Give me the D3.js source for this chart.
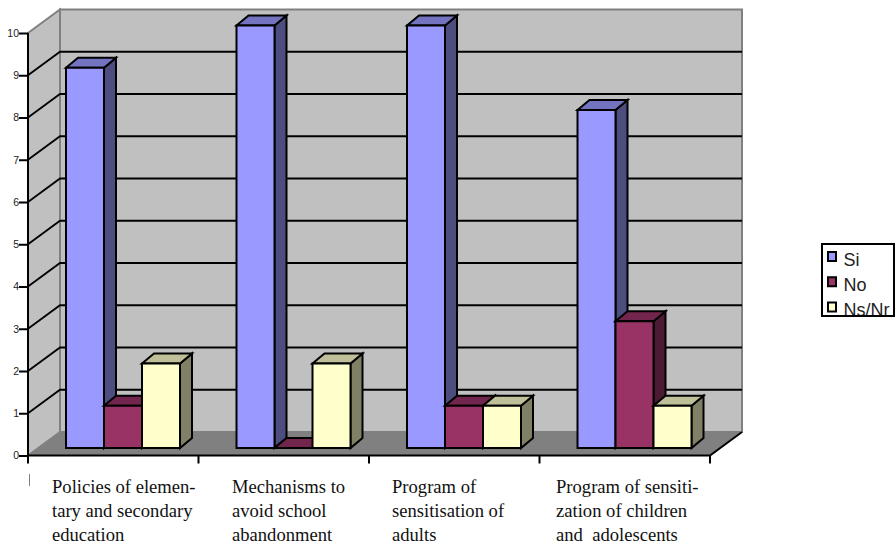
<!DOCTYPE html>
<html>
<head>
<meta charset="utf-8">
<script src="https://cdn.jsdelivr.net/npm/d3@7"></script>
<style>
html,body{margin:0;padding:0;background:#fff;overflow:hidden}
svg{display:block}
</style>
</head>
<body>
<svg id="chart" width="895" height="547"></svg>
<script>
// Survey responses per programme area
const categories = [
  ["Policies of elemen-", "tary and secondary", "education"],
  ["Mechanisms to", "avoid school", "abandonment"],
  ["Program of", "sensitisation of", "adults"],
  ["Program of sensiti-", "zation of children", "and  adolescents"]
];
const seriesNames = ["Si", "No", "Ns/Nr"];
const si = [9, 10, 10, 8];
const no = [1, 0, 1, 3];
const nsNr = [2, 2, 1, 1];
const tickValues = [0, 1, 2, 3, 4, 5, 6, 7, 8, 9, 10];

const seriesValues = [si, no, nsNr];
const faceColors = ["#9999ff", "#993366", "#ffffcc"];
const topColors = ["#7373bf", "#73264d", "#bfbf99"];
const sideColors = ["#4d4d80", "#4d1a33", "#808066"];

// Oblique projection: wall depth and bar depth
const wallDx = 32, wallDy = -23.5;
const barDx = 12, barDy = -10;
const barLift = -7.5;
const barInset = 38;
const barWidth = 38;

const svg = d3.select("#chart");
const y = d3.scaleLinear().domain([0, 10]).range([455.5, 33]);
const x = d3.scaleBand().domain(d3.range(categories.length)).range([28, 710]);
const baseY = y(0);
const topY = y(10);
const left = x.range()[0], right = x.range()[1];
const poly = pts => pts.map(p => p.join(",")).join(" ");

// Walls and floor
const frame = svg.append("g");
frame.append("polygon")
  .attr("points", poly([[left + wallDx, topY + wallDy], [right + wallDx, topY + wallDy], [right + wallDx, baseY + wallDy], [left + wallDx, baseY + wallDy]]))
  .attr("fill", "#c0c0c0").attr("stroke", "#808080").attr("stroke-width", 2);
frame.append("polygon")
  .attr("points", poly([[left, topY], [left + wallDx, topY + wallDy], [left + wallDx, baseY + wallDy], [left, baseY]]))
  .attr("fill", "#c0c0c0").attr("stroke", "#808080").attr("stroke-width", 2);
frame.append("polygon")
  .attr("points", poly([[left, baseY], [left + wallDx, baseY + wallDy], [right + wallDx, baseY + wallDy], [right, baseY]]))
  .attr("fill", "#808080");

// Gridlines run along the side wall and across the back wall
const grid = svg.append("g").attr("fill", "none").attr("stroke", "#000").attr("stroke-width", 1.8);
grid.selectAll("polyline").data(tickValues.filter(d => d > 0 && d < 10)).join("polyline")
  .attr("points", d => poly([[left, y(d)], [left + wallDx, y(d) + wallDy], [right + wallDx, y(d) + wallDy]]));

// Front edges of the plot
const edges = svg.append("g").attr("stroke", "#000").attr("stroke-width", 2).attr("fill", "none");
edges.append("polyline").attr("points", poly([[left, topY], [left, baseY], [right, baseY], [right + wallDx, baseY + wallDy]]));

// Bars, painted left to right so each one covers its neighbour's side face
const bars = svg.append("g").attr("stroke", "#000").attr("stroke-width", 2).attr("stroke-linejoin", "miter");
categories.forEach((_, i) => {
  seriesValues.forEach((values, s) => {
    const x0 = x(i) + barInset + s * barWidth;
    const x1 = x0 + barWidth;
    const yTop = y(values[i]) + barLift;
    const yBot = baseY + barLift;
    const g = bars.append("g");
    g.append("polygon").attr("fill", sideColors[s])
      .attr("points", poly([[x1, yTop], [x1 + barDx, yTop + barDy], [x1 + barDx, yBot + barDy], [x1, yBot]]));
    g.append("polygon").attr("fill", topColors[s])
      .attr("points", poly([[x0, yTop], [x0 + barDx, yTop + barDy], [x1 + barDx, yTop + barDy], [x1, yTop]]));
    g.append("rect").attr("fill", faceColors[s])
      .attr("x", x0).attr("y", yTop).attr("width", barWidth).attr("height", yBot - yTop);
  });
});

// Value axis
const yAxis = svg.append("g").attr("transform", `translate(${left},0)`)
  .call(d3.axisLeft(y).tickValues(tickValues).tickSize(9).tickFormat(d3.format("d")));
yAxis.select(".domain").remove();
yAxis.selectAll("line").attr("stroke", "#000").attr("stroke-width", 2);
yAxis.selectAll("text").attr("font-family", "Liberation Sans").attr("font-size", 10.5).attr("fill", "#222").attr("dx", 3);

// Category separators
const xTicks = d3.range(categories.length + 1).map(i => i < categories.length ? x(i) : right);
svg.append("g").selectAll("line").data(xTicks).join("line")
  .attr("x1", d => d).attr("x2", d => d).attr("y1", baseY).attr("y2", baseY + 8)
  .attr("stroke", "#000").attr("stroke-width", 2);

svg.append("line").attr("x1", 29.5).attr("x2", 29.5).attr("y1", 474).attr("y2", 486)
  .attr("stroke", "#808080").attr("stroke-width", 1);

// Category labels
const labelX = [52, 232, 392, 556];
const labelY = [493, 517, 541];
const labels = svg.append("g").attr("font-family", "Liberation Serif").attr("font-size", 18.6).attr("fill", "#111");
categories.forEach((lines, i) => {
  labels.append("g").selectAll("text").data(lines).join("text")
    .attr("x", labelX[i]).attr("y", (_, k) => labelY[k])
    .style("white-space", "pre")
    .text(d => d);
});

// Legend, with its text clipped by the box
const defs = svg.append("defs");
defs.append("clipPath").attr("id", "legend-clip").append("rect")
  .attr("x", 822).attr("y", 244).attr("width", 72).attr("height", 72);
const legend = svg.append("g");
legend.append("rect").attr("x", 822).attr("y", 244).attr("width", 72).attr("height", 72)
  .attr("fill", "#fff");
const legendY = d3.scalePoint().domain(seriesNames).range([256.5, 307]);
const entry = legend.append("g").attr("clip-path", "url(#legend-clip)")
  .selectAll("g").data(seriesNames).join("g")
  .attr("transform", d => `translate(0,${legendY(d)})`);
entry.append("rect").attr("x", 828).attr("y", -4.5).attr("width", 8).attr("height", 9)
  .attr("fill", (_, i) => faceColors[i]).attr("stroke", "#000").attr("stroke-width", 2);
entry.append("text").attr("x", 843.5).attr("y", 9)
  .attr("font-family", "Liberation Sans").attr("font-size", 18).attr("fill", "#222")
  .text(d => d);
legend.append("rect").attr("x", 822).attr("y", 244).attr("width", 72).attr("height", 72)
  .attr("fill", "none").attr("stroke", "#000").attr("stroke-width", 2);
</script>
</body>
</html>
